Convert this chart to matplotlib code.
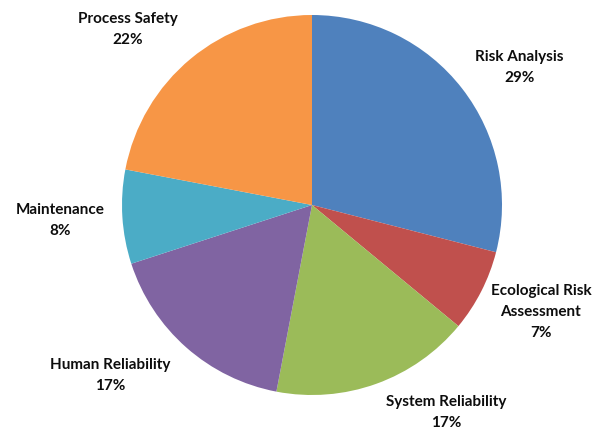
import numpy as np
import matplotlib
matplotlib.use("Agg")
import matplotlib.pyplot as plt

categories = ["Risk Analysis", "Ecological Risk\nAssessment", "System Reliability",
              "Human Reliability", "Maintenance", "Process Safety"]
shares = [29, 7, 17, 17, 8, 22]
colors = ["#4F81BD", "#C0504D", "#9BBB59", "#8064A2", "#4BACC6", "#F79646"]

# label placement tweaks (angle offset in degrees, radius factor)
label_adjust = [(-4.2, 1.31), (1.9, 1.33), (13.2, 1.30), (-8.4, 1.39), (0, 1.33), (6.8, 1.34)]

fig = plt.figure(figsize=(6.04, 4.29), dpi=100)
ax = fig.add_axes([0, 0, 1, 1])

cx, cy, r = 312, 224, 190
wedges, _ = ax.pie(shares, colors=colors, startangle=90, counterclock=False,
                   center=(cx, cy), radius=r, frame=True,
                   wedgeprops=dict(linewidth=0))
ax.set_xlim(0, 604)
ax.set_ylim(0, 429)
ax.set_aspect("equal")
ax.axis("off")

for w, name, val, (da, rf) in zip(wedges, categories, shares, label_adjust):
    mid = np.deg2rad((w.theta1 + w.theta2) / 2 + da)
    x = cx + r * rf * np.cos(mid)
    y = cy + r * rf * np.sin(mid)
    ax.text(x, y, f"{name}\n{val}%", ha="center", va="center",
            fontsize=11, fontweight="bold", family=["Lato", "DejaVu Sans"],
            linespacing=1.65, color="#0d0d0d")

fig.savefig("out.png", dpi=100)
